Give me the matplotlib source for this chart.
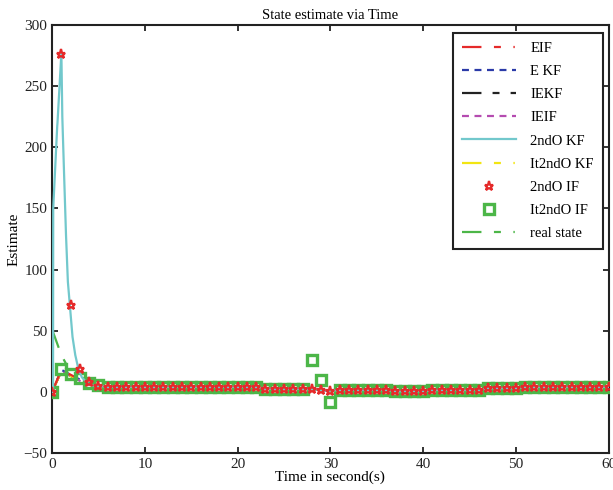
import numpy as np
import matplotlib
matplotlib.use("Agg")
import matplotlib.pyplot as plt

plt.rcParams['font.family'] = ['Liberation Serif', 'DejaVu Serif']
plt.rcParams['font.size'] = 10
plt.rcParams['lines.scale_dashes'] = False

# time axis (one estimate per second)
time_s = list(range(61))

# steady part of the estimates, t = 6..60
steady_a = [4] * 17 + [2.5] * 5           # t 6..27
steady_mid = [2, 1.5, 1]                  # t 28..30
steady_b = [1.5] * 6 + [0.5] * 4 + [1.5] * 6 + [3] * 4 + [4] * 10   # t 31..60

eif_head = [0, 18, 14, 10, 7, 5]
ekf_head = [0, 18, 14, 10, 7, 5]
iekf_head = [0, 17, 13, 9, 6, 5]
ieif_head = [0, 17, 13, 9, 6, 5]
it2kf_head = [0, 17, 13, 9, 6, 5]
star_head = [0, 276, 71, 19, 8, 5]
square_head = [0, 19, 15, 11, 7, 5.5]
square_mid = [26, 10, -8]
real_head = [51, 30, 16, 10, 7, 5]

# 2nd order KF, finer time steps during the first seconds
kf2_t = [0, 0.1, 0.12, 0.55, 0.58, 1.0, 1.1, 1.3, 1.5, 1.7, 1.9, 2.2, 2.5, 2.8, 3.2, 3.8, 4.5, 5.0]
kf2_v = [0, 0, 150, 217, 220, 277, 225, 176, 128, 90, 72, 45, 30, 20, 12, 7, 5, 5]

t_tail = time_s[6:]
tail = steady_a + steady_mid + steady_b

fig = plt.figure(figsize=(6.13, 4.90), dpi=100)
ax = fig.add_axes([0.085, 0.0755, 0.908, 0.8735])

lw = 1.6
ax.plot(time_s, ekf_head + tail, color='#2b3aa8', lw=lw, dashes=(5, 4), label='E KF', zorder=2)
ax.plot(time_s, iekf_head + tail, color='#222222', lw=lw, dashes=(14, 8, 5, 8), label='IEKF', zorder=2)
ax.plot(time_s, ieif_head + tail, color='#b54bb0', lw=lw, dashes=(5, 4), label='IEIF', zorder=2)
ax.plot(time_s, real_head + tail, color='#4cb648', lw=lw, dashes=(14, 9, 5, 9, 1, 9), label='real state', zorder=2)
ax.plot(time_s, it2kf_head + tail, color='#f2e512', lw=lw, dashes=(14, 9, 5, 9, 1, 9), label='It2ndO KF', zorder=3)
ax.plot(time_s, eif_head + tail, color='#e52a2a', lw=lw, dashes=(14, 9, 5, 9, 1, 9), label='EIF', zorder=3)
ax.plot(time_s, square_head + steady_a + square_mid + steady_b, ls='none', marker='s',
        ms=7, mfc='none', mec='#4cb648', mew=2.4, label='It2ndO IF', zorder=4)
ax.plot(kf2_t + t_tail, kf2_v + tail, color='#72c8cc', lw=lw, label='2ndO KF', zorder=5)
ax.plot(time_s, star_head + tail, ls='none', marker='*', ms=6.5, mfc='none',
        mec='#e52a2a', mew=1.6, label='2ndO IF', zorder=6)

ax.set_xlim(0, 60)
ax.set_ylim(-50, 300)
ax.set_xticks(range(0, 61, 10))
ax.set_yticks(range(-50, 301, 50))
ax.tick_params(direction='in', length=4, width=1.3, top=True, right=True,
               labelsize=11, colors='#222222')
for s in ax.spines.values():
    s.set_linewidth(1.5)
    s.set_color('#222222')

ax.set_title('State estimate via Time', fontsize=10.5, pad=4)
ax.set_xlabel('Time in second(s)', fontsize=11, labelpad=0)
ax.set_ylabel('Estimate', fontsize=11, labelpad=2)

h, l = ax.get_legend_handles_labels()
order = ['EIF', 'E KF', 'IEKF', 'IEIF', '2ndO KF', 'It2ndO KF', '2ndO IF', 'It2ndO IF', 'real state']
hs = [h[l.index(k)] for k in order]
leg = ax.legend(hs, order, loc='upper right', bbox_to_anchor=(0.989, 0.981),
                borderaxespad=0, fontsize=10.5, handlelength=3.7, handletextpad=1.0,
                labelspacing=0.68, borderpad=0.6, fancybox=False,
                edgecolor='#222222', framealpha=1, numpoints=1)
leg.get_frame().set_linewidth(1.5)

fig.savefig('out.png', dpi=100)
